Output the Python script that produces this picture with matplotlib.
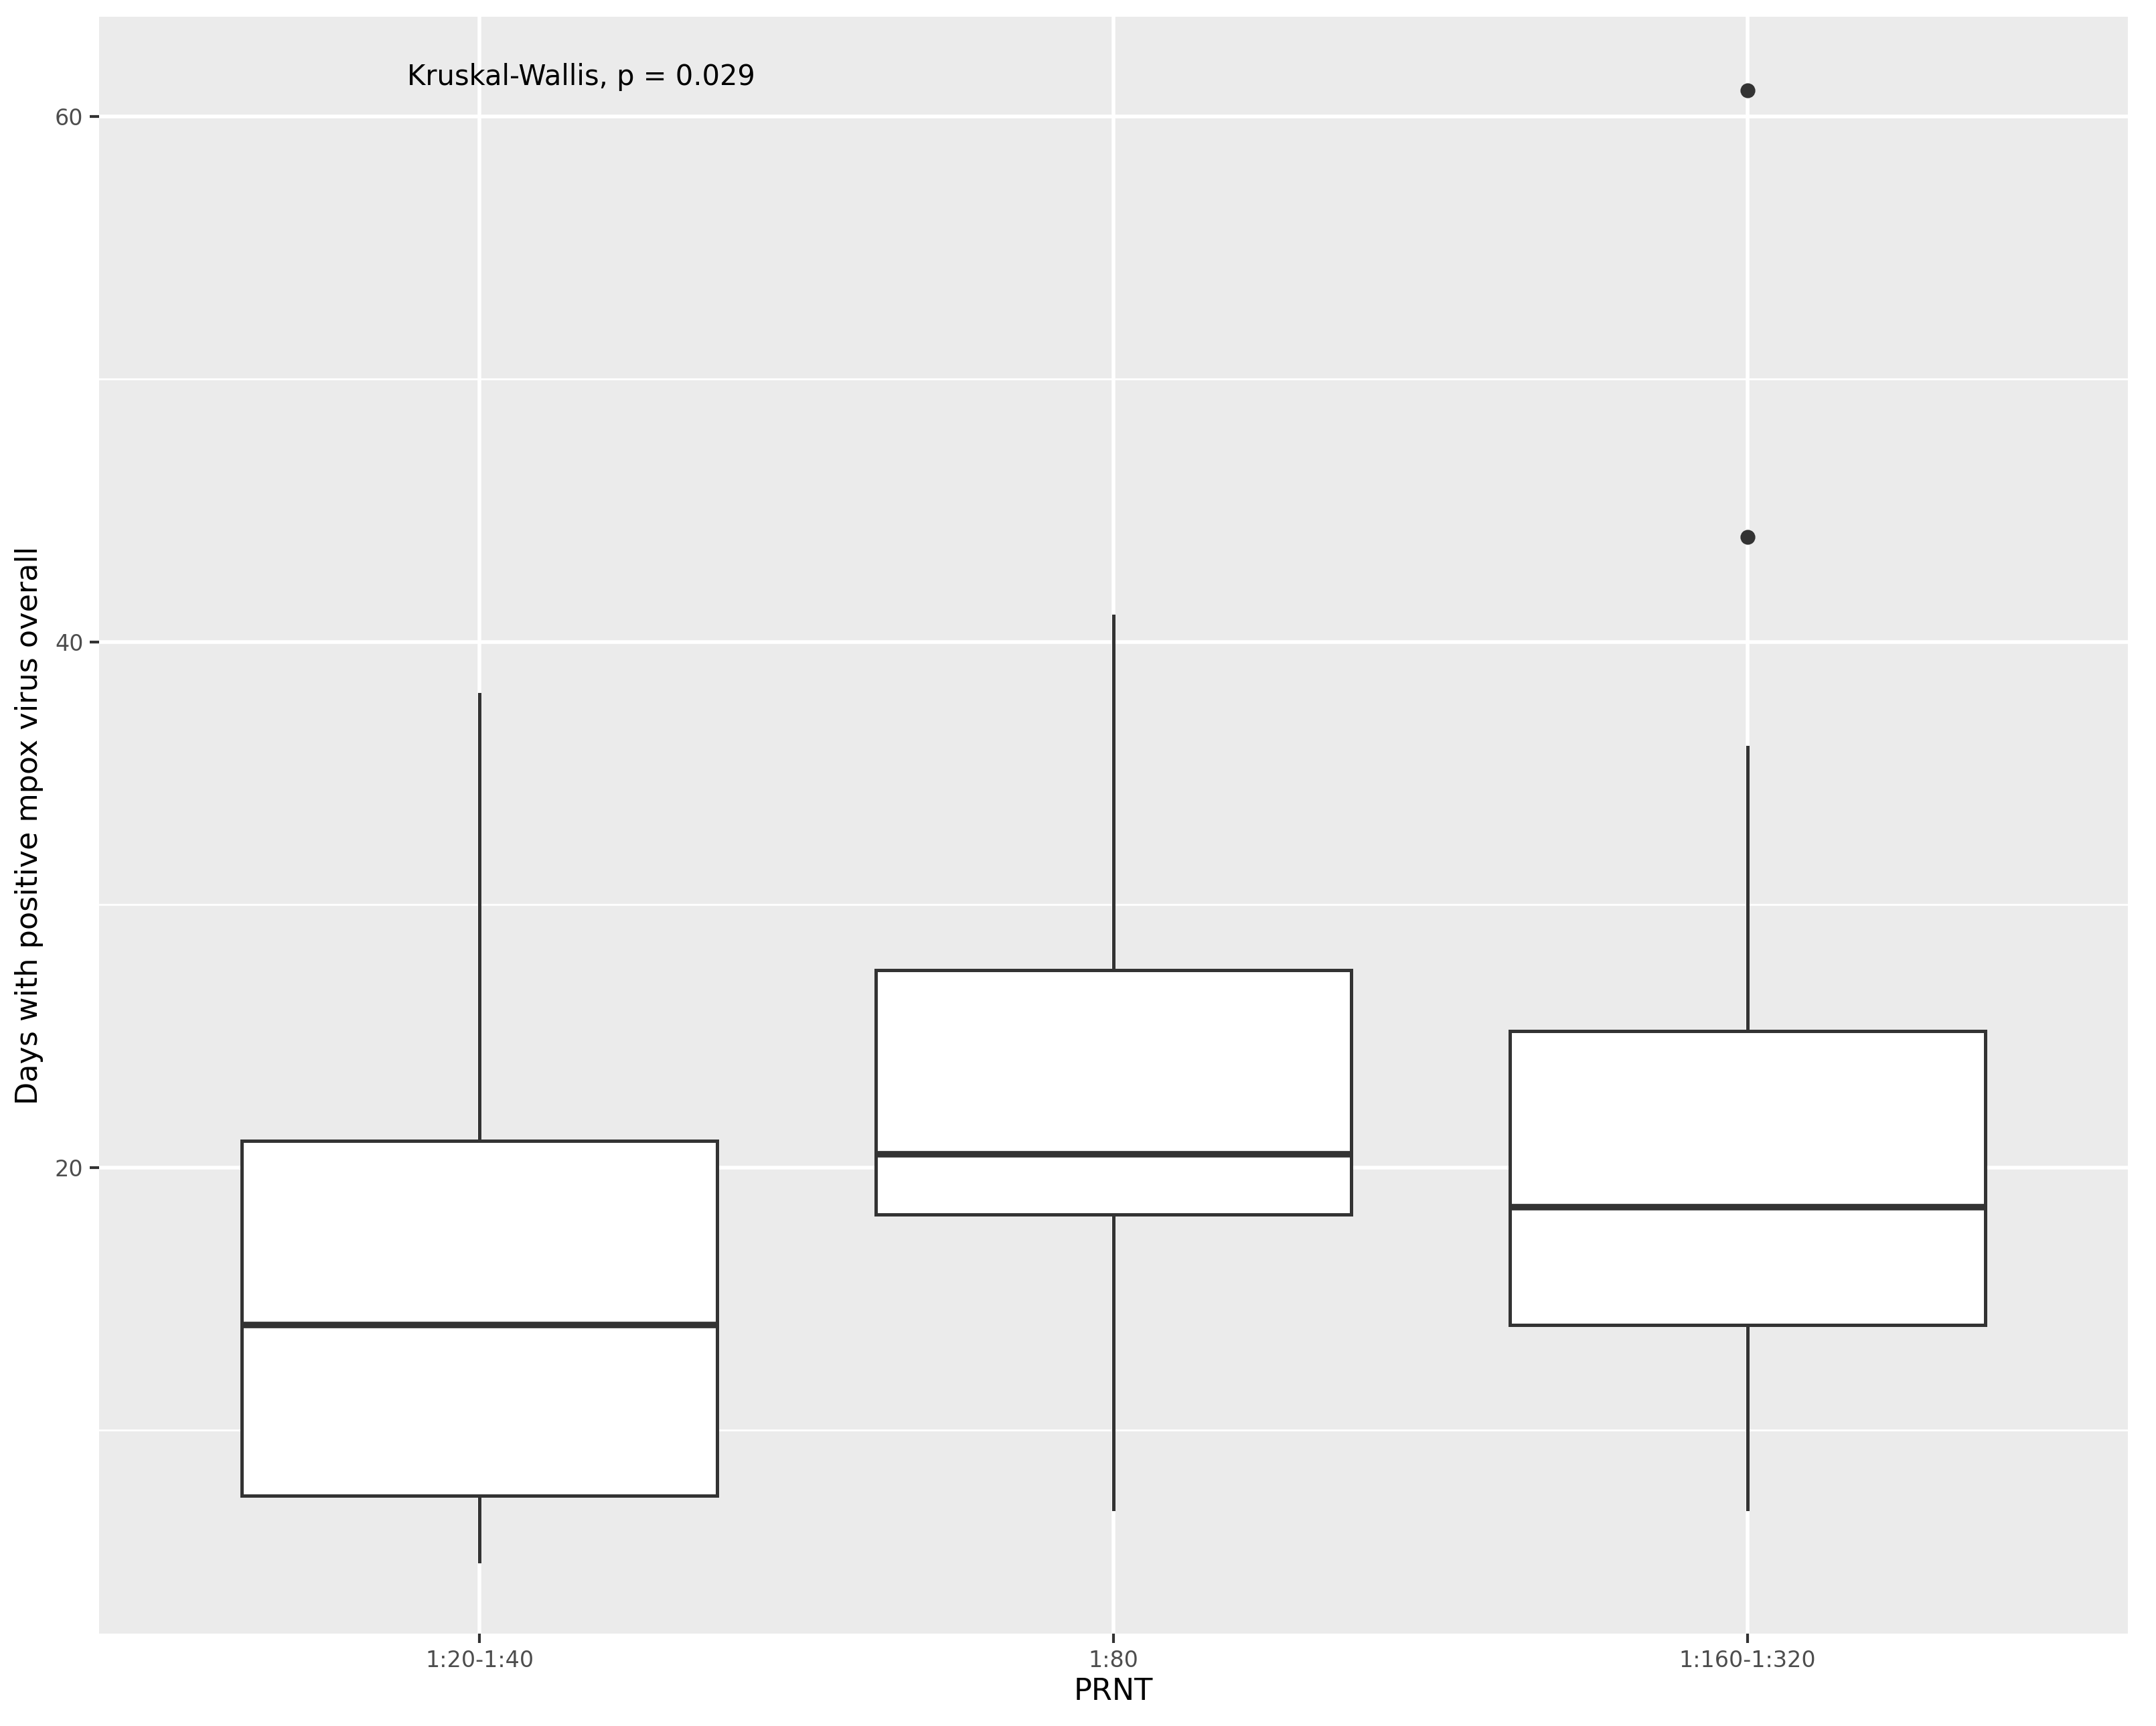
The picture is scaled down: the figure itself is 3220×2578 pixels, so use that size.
import matplotlib
matplotlib.use("Agg")
import matplotlib.pyplot as plt

categories = ["1:20-1:40", "1:80", "1:160-1:320"]
whislo = [5, 7, 7]
q1 = [7.5, 18.2, 14]
med = [14, 20.5, 18.5]
q3 = [21, 27.5, 25.2]
whishi = [38, 41, 36]
outliers = [[], [], [61, 44]]

fig = plt.figure(figsize=(16.1, 12.89), dpi=200)
ax = fig.add_axes([0.046, 0.0534, 0.941, 0.937])
ax.set_facecolor("#EBEBEB")
stats = [dict(whislo=a, q1=b, med=c, q3=d, whishi=e, fliers=f)
         for a, b, c, d, e, f in zip(whislo, q1, med, q3, whishi, outliers)]
ax.bxp(stats, positions=[1, 2, 3], widths=0.75, patch_artist=True, showcaps=False,
       boxprops=dict(facecolor="white", edgecolor="#333333", linewidth=1.8),
       medianprops=dict(color="#333333", linewidth=3.5),
       whiskerprops=dict(color="#333333", linewidth=1.8),
       flierprops=dict(marker="o", markerfacecolor="#333333", markeredgecolor="#333333", markersize=7),
       zorder=3)
ax.set_xlim(0.4, 3.6)
ax.set_ylim(2.25, 63.8)
ax.set_yticks([20, 40, 60])
ax.set_yticks([10, 30, 50], minor=True)
ax.set_xticks([1, 2, 3])
ax.set_xticklabels(categories)
ax.grid(True, which="major", color="white", linewidth=2)
ax.grid(True, which="minor", axis="y", color="white", linewidth=1)
ax.set_axisbelow(True)
for s in ax.spines.values():
    s.set_visible(False)
ax.tick_params(axis="both", which="major", length=5, width=1.5, color="#333333", labelsize=12, labelcolor="#4D4D4D")
ax.tick_params(axis="y", which="minor", length=0)
ax.set_xlabel("PRNT", fontsize=16, labelpad=3)
ax.set_ylabel("Days with positive mpox virus overall", fontsize=16, labelpad=6)
ax.text(0.886, 61.5, "Kruskal-Wallis, p = 0.029", fontsize=15, ha="left", va="center")
fig.savefig("out.png", dpi=200)
